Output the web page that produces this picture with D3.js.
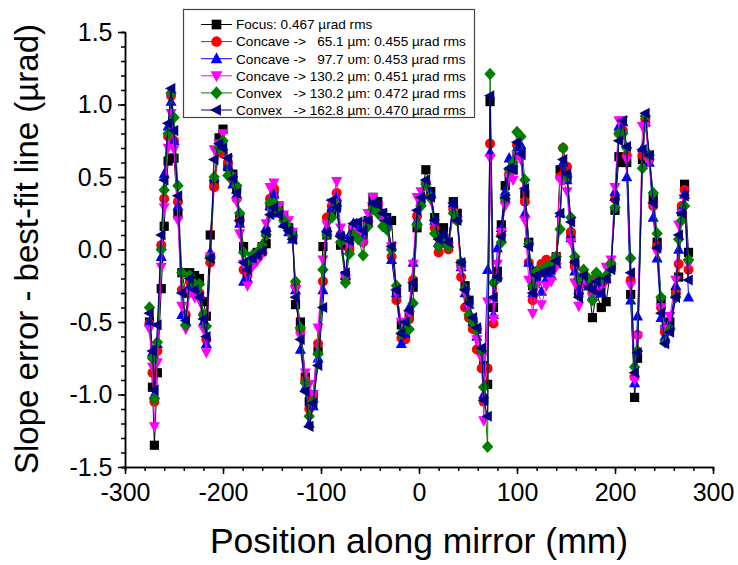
<!DOCTYPE html>
<html>
<head>
<meta charset="utf-8">
<script src="https://cdn.jsdelivr.net/npm/d3@7"></script>
<style>
body { margin: 0; background: #fff; }
text { font-family: "Liberation Sans", Arial, sans-serif; }
</style>
</head>
<body>
<script>
// positions along the mirror (mm), shared by every run
const positions = [
  -275,-272,-270,-267,-263,-260,-256,-253,-250,-246,
  -242,-238,-234,-229,-224,-220,-217,-213,-209,-204,
  -200,-195,-190,-186,-183,-179,-175,-170,-165,-160,
  -156,-152,-148,-143,-138,-133,-129,-126,-121,-116,
  -112,-108,-103,-98,-94,-89,-84,-80,-75,-71,
  -67,-62,-57,-52,-47,-42,-37,-33,-28,-23,
  -18,-14,-10,-6,-2,2,7,12,16,20,
  25,30,35,39,43,47,51,55,59,64,
  66,70,72.5,76,80,84,88,92,96,100,
  104,108,112,116,120,125,130,135,140,144,
  147,151,155,159,163,168,173,177,181,186,
  191,196,200,204,208,212,216,220,223,228,
  231,235,239,243,247,251,256,262,265,268,
  271,275
]

// slope error - best-fit line (urad)
const focus = [
  -0.50,-0.95,-1.35,-0.85,-0.27,0.16,0.61,0.63,0.63,0.24,
  -0.16,-0.30,-0.16,-0.18,-0.20,-0.36,-0.46,0.10,0.45,0.77,
  0.83,0.57,0.52,0.42,0.22,0.02,-0.12,-0.05,-0.02,0.02,
  0.04,0.30,0.39,0.30,0.22,0.15,0.10,-0.38,-0.50,-0.88,
  -1.05,-1.00,-0.70,0.02,0.10,0.25,0.30,0.03,-0.18,0.02,
  0.15,0.12,0.10,0.20,0.36,0.33,0.25,0.22,0.20,-0.30,
  -0.52,-0.60,-0.45,-0.26,0.15,0.35,0.55,0.40,0.22,0.10,
  0.15,0.05,0.33,0.25,-0.10,-0.25,-0.35,-0.50,-0.55,-0.70,
  -0.80,-0.93,1.02,-0.40,-0.15,0.17,0.44,0.50,0.55,0.65,
  0.65,0.38,0.05,-0.25,-0.15,-0.16,-0.14,-0.12,-0.05,0.55,
  0.55,0.50,0.10,-0.10,-0.30,-0.22,-0.25,-0.47,-0.30,-0.40,
  -0.36,-0.12,0.27,0.64,0.60,0.60,-0.31,-1.02,-0.75,0.62,
  0.88,0.65,0.35,0.05,-0.35,-0.55,-0.50,-0.30,-0.19,0.26,
  0.45,-0.02
]
const concave65 = [
  -0.51,-0.85,-1.05,-0.70,0.03,0.35,0.78,1.06,0.75,0.33,
  -0.28,-0.45,-0.22,-0.28,-0.30,-0.45,-0.62,-0.09,0.43,0.68,
  0.66,0.60,0.48,0.35,0.20,-0.14,-0.18,-0.10,-0.06,-0.02,
  0.10,0.35,0.42,0.26,0.22,0.14,0.08,-0.25,-0.55,-0.90,
  -1.10,-1.02,-0.65,-0.22,0.22,0.30,0.39,0.10,-0.20,0.00,
  0.14,0.10,0.05,0.18,0.30,0.30,0.22,0.15,-0.05,-0.35,
  -0.61,-0.62,-0.48,-0.21,0.23,0.36,0.46,0.36,0.15,-0.02,
  0.05,0.00,0.28,0.20,-0.19,-0.40,-0.47,-0.55,-0.69,-0.82,
  -1.05,-0.82,0.73,-0.51,-0.20,0.10,0.33,0.52,0.55,0.72,
  0.68,0.33,-0.09,-0.35,-0.20,-0.10,-0.07,-0.12,-0.05,0.50,
  0.70,0.57,0.12,-0.12,-0.25,-0.18,-0.22,-0.30,-0.17,-0.25,
  -0.21,-0.10,0.35,0.80,0.82,0.65,-0.21,-0.88,-0.59,0.65,
  0.90,0.62,0.30,0.02,-0.40,-0.57,-0.55,-0.30,-0.10,0.30,
  0.41,-0.14
]
const concave98 = [
  -0.50,-0.71,-1.00,-0.65,-0.05,0.52,0.85,1.02,0.75,0.30,
  -0.45,-0.50,-0.25,-0.30,-0.31,-0.50,-0.65,-0.02,0.50,0.72,
  0.71,0.58,0.45,0.38,0.18,-0.22,-0.20,-0.08,-0.04,0.00,
  0.15,0.30,0.38,0.25,0.18,0.12,0.07,-0.28,-0.69,-0.95,
  -1.20,-1.08,-0.75,-0.28,0.15,0.29,0.36,0.12,-0.18,0.10,
  0.18,0.15,0.08,0.22,0.33,0.28,0.24,0.18,-0.07,-0.30,
  -0.65,-0.58,-0.40,-0.09,0.20,0.33,0.45,0.38,0.20,0.05,
  0.10,0.04,0.32,0.22,-0.12,-0.30,-0.38,-0.50,-0.60,-0.70,
  -1.00,-0.14,0.67,-0.45,0.01,0.15,0.40,0.63,0.60,0.70,
  0.72,0.25,-0.09,-0.30,-0.22,-0.29,-0.20,-0.18,-0.10,0.25,
  0.60,0.48,0.08,-0.15,-0.28,-0.20,-0.25,-0.32,-0.22,-0.30,
  -0.20,-0.10,0.40,0.85,0.88,0.50,-0.35,-0.92,-0.46,0.70,
  0.88,0.60,0.22,-0.06,-0.47,-0.60,-0.52,-0.25,0.00,0.28,
  0.38,-0.33
]
const concave130 = [
  -0.55,-0.81,-1.22,-0.78,-0.12,0.29,0.70,0.94,0.69,0.20,
  -0.39,-0.55,-0.30,-0.33,-0.35,-0.55,-0.71,-0.05,0.69,0.73,
  0.80,0.62,0.50,0.33,0.11,-0.10,-0.25,-0.12,-0.08,-0.03,
  0.18,0.43,0.46,0.30,0.24,0.20,0.12,-0.28,-0.60,-0.85,
  -0.93,-1.00,-0.54,-0.07,0.17,0.32,0.47,0.15,-0.20,0.02,
  0.14,0.10,0.04,0.25,0.36,0.30,0.20,0.20,0.02,-0.30,
  -0.50,-0.55,-0.45,-0.10,0.36,0.40,0.44,0.34,0.18,0.06,
  0.08,0.02,0.25,0.20,-0.14,-0.30,-0.40,-0.50,-0.62,-0.75,
  -1.18,-0.36,0.63,-0.48,-0.10,0.12,0.30,0.50,0.48,0.65,
  0.62,0.20,-0.21,-0.44,-0.25,-0.38,-0.25,-0.22,-0.12,0.48,
  0.48,0.40,0.05,-0.23,-0.39,-0.20,-0.25,-0.33,-0.25,-0.28,
  -0.12,-0.07,0.43,0.89,0.89,0.62,-0.25,-0.90,-0.60,0.85,
  0.85,0.60,0.30,-0.02,-0.40,-0.55,-0.46,-0.21,0.17,0.25,
  0.35,-0.10
]
const convex130 = [
  -0.40,-0.75,-1.03,-0.64,0.00,0.41,0.80,1.08,0.91,0.44,
  -0.16,-0.52,-0.18,-0.24,-0.24,-0.45,-0.53,-0.06,0.50,0.70,
  0.75,0.51,0.50,0.44,0.25,-0.02,-0.10,-0.04,-0.02,0.03,
  0.10,0.32,0.32,0.26,0.20,0.15,0.10,-0.22,-0.54,-0.92,
  -1.15,-1.05,-0.72,-0.14,0.10,0.22,0.30,0.05,-0.23,-0.03,
  0.10,0.07,-0.04,0.16,0.28,0.25,0.16,0.14,0.00,-0.25,
  -0.58,-0.55,-0.55,-0.37,0.17,0.30,0.45,0.36,0.11,0.02,
  0.07,0.02,0.25,0.20,-0.09,-0.27,-0.45,-0.50,-0.55,-0.70,
  -0.95,-1.36,1.21,-0.23,-0.20,0.05,0.35,0.55,0.60,0.81,
  0.78,0.48,0.04,-0.25,-0.15,-0.14,-0.12,-0.10,-0.05,0.14,
  0.70,0.50,0.22,-0.05,-0.20,-0.14,-0.20,-0.35,-0.16,-0.20,
  -0.18,-0.10,0.29,0.80,0.80,0.70,-0.06,-0.81,-0.70,0.56,
  0.92,0.65,0.39,0.11,-0.33,-0.64,-0.55,-0.33,0.07,0.20,
  0.30,-0.07
]
const convex163 = [
  -0.44,-0.70,-0.97,-0.52,0.10,0.48,0.87,1.11,0.82,0.37,
  -0.30,-0.49,-0.20,-0.28,-0.33,-0.48,-0.60,-0.06,0.62,0.73,
  0.70,0.63,0.49,0.39,0.20,-0.09,-0.14,-0.06,-0.04,-0.01,
  0.12,0.24,0.29,0.24,0.16,0.13,0.07,-0.33,-0.62,-0.98,
  -1.22,-1.06,-0.80,-0.40,0.12,0.34,0.29,0.09,-0.16,0.06,
  0.18,0.19,0.13,0.20,0.32,0.31,0.25,0.20,0.02,-0.28,
  -0.58,-0.50,-0.42,-0.23,0.27,0.36,0.48,0.36,0.20,0.07,
  0.10,0.05,0.32,0.20,-0.09,-0.28,-0.37,-0.47,-0.54,-0.68,
  -1.04,-1.15,1.06,-0.33,-0.19,0.09,0.36,0.56,0.55,0.74,
  0.66,0.42,0.02,-0.30,-0.18,-0.16,-0.15,-0.14,-0.08,0.25,
  0.62,0.52,0.19,-0.09,-0.33,-0.18,-0.26,-0.28,-0.22,-0.30,
  -0.20,-0.14,0.34,0.75,0.89,0.71,-0.16,-0.85,-0.71,0.69,
  0.94,0.65,0.32,0.01,-0.44,-0.65,-0.57,-0.33,0.10,0.25,
  0.37,-0.21
]

const legendLabels = [
  'Focus: 0.467 \u00b5rad rms',
  'Concave ->   65.1 \u00b5m: 0.455 \u00b5rad rms',
  'Concave ->   97.7 \u03c5m: 0.453 \u00b5rad rms',
  'Concave -> 130.2 \u00b5m: 0.451 \u00b5rad rms',
  'Convex   -> 130.2 \u00b5m: 0.472 \u00b5rad rms',
  'Convex   -> 162.8 \u00b5m: 0.470 \u00b5rad rms'
]
const xTicks = [-300, -200, -100, 0, 100, 200, 300]
const xTickLabels = ['-300', '-200', '-100', '0', '100', '200', '300']
const yTicks = [-1.5, -1.0, -0.5, 0, 0.5, 1.0, 1.5]
const yTickLabels = ['-1.5', '-1.0', '-0.5', '0.0', '0.5', '1.0', '1.5']

const m = {
    width: 738,
    height: 565,
    left: 125,
    right: 713,
    top: 32,
    bottom: 467
}

// marker shapes, centred on 0,0
const shapes = {
    square: s => `M${-s},${-s}H${s}V${s}H${-s}Z`,
    circle: s => `M${-s},0A${s},${s} 0 1,0 ${s},0A${s},${s} 0 1,0 ${-s},0Z`,
    up: s => `M0,${-s * 1.15}L${s * 1.05},${s * 0.8}L${-s * 1.05},${s * 0.8}Z`,
    down: s => `M0,${s * 1.15}L${s * 1.05},${-s * 0.8}L${-s * 1.05},${-s * 0.8}Z`,
    diamond: s => `M0,${-s * 1.2}L${s * 1.1},0L0,${s * 1.2}L${-s * 1.1},0Z`,
    left: s => `M${-s * 1.15},0L${s * 0.8},${-s * 1.05}L${s * 0.8},${s * 1.05}Z`
}

const series = [
    { values: focus, color: '#000000', shape: 'square', size: 4.6 },
    { values: concave65, color: '#ff0000', shape: 'circle', size: 5.0 },
    { values: concave98, color: '#0000ff', shape: 'up', size: 5.3 },
    { values: concave130, color: '#ff00ff', shape: 'down', size: 5.3 },
    { values: convex130, color: '#008000', shape: 'diamond', size: 5.2 },
    { values: convex163, color: '#000080', shape: 'left', size: 5.3 }
]

const svg = d3.select('body').append('svg')
    .attr('width', m.width)
    .attr('height', m.height)

const x = d3.scaleLinear().domain([-300, 300]).range([m.left, m.right])
const y = d3.scaleLinear().domain([-1.5, 1.5]).range([m.bottom, m.top])

// minor ticks first, then the major axes on top
svg.append('g')
    .attr('transform', `translate(0,${m.bottom})`)
    .call(d3.axisBottom(x).tickValues(d3.range(-300, 301, 20)).tickSize(4).tickFormat(''))
svg.append('g')
    .attr('transform', `translate(${m.left},0)`)
    .call(d3.axisLeft(y).tickValues(d3.range(-15, 16, 1).map(d => d / 10)).tickSize(4).tickFormat(''))

const xAxis = svg.append('g')
    .attr('transform', `translate(0,${m.bottom})`)
    .call(d3.axisBottom(x).tickValues(xTicks).tickSize(7).tickSizeOuter(0)
        .tickFormat((d, i) => xTickLabels[i]))
const yAxis = svg.append('g')
    .attr('transform', `translate(${m.left},0)`)
    .call(d3.axisLeft(y).tickValues(yTicks).tickSize(7).tickSizeOuter(0)
        .tickFormat((d, i) => yTickLabels[i]))

svg.selectAll('.domain, .tick line').attr('stroke', '#000').attr('stroke-width', 1.5)
xAxis.selectAll('text').attr('font-size', 25).attr('fill', '#000').attr('dy', '0.95em')
yAxis.selectAll('text').attr('font-size', 25).attr('fill', '#000').attr('dx', '-0.1em')

svg.append('text')
    .attr('x', 419)
    .attr('y', 553)
    .attr('text-anchor', 'middle')
    .attr('font-size', 35.5)
    .text('Position along mirror (mm)')

svg.append('text')
    .attr('transform', 'translate(38,249) rotate(-90)')
    .attr('text-anchor', 'middle')
    .attr('font-size', 33)
    .text('Slope error - best-fit line (\u00b5rad)')

const line = d3.line()
    .x((d, i) => x(positions[i]))
    .y(d => y(d))

const plot = svg.append('g')

series.forEach(function(s) {
    const g = plot.append('g')
    g.append('path')
        .datum(s.values)
        .attr('fill', 'none')
        .attr('stroke', s.color)
        .attr('stroke-width', 1)
        .attr('d', line)
    g.selectAll('.marker')
        .data(s.values)
        .enter()
        .append('path')
            .attr('class', 'marker')
            .attr('transform', (d, i) => `translate(${x(positions[i])},${y(d)})`)
            .attr('d', shapes[s.shape](s.size))
            .attr('fill', s.color)
})

// legend
const legend = svg.append('g')
legend.append('rect')
    .attr('x', 183.5)
    .attr('y', 9.5)
    .attr('width', 291)
    .attr('height', 108)
    .attr('fill', '#fff')
    .attr('stroke', '#444')
    .attr('stroke-width', 1.2)

series.forEach(function(s, i) {
    const cy = 24.5 + i * 17.1
    const row = legend.append('g')
    row.append('line')
        .attr('x1', 201).attr('x2', 232)
        .attr('y1', cy).attr('y2', cy)
        .attr('stroke', s.color)
        .attr('stroke-width', 1)
    row.append('path')
        .attr('transform', `translate(216.5,${cy})`)
        .attr('d', shapes[s.shape](s.size * 1.05))
        .attr('fill', s.color)
    row.append('text')
        .attr('x', 236)
        .attr('y', cy)
        .attr('dy', '0.36em')
        .attr('font-size', 13.6)
        .style('white-space', 'pre')
        .text(legendLabels[i])
})
</script>
</body>
</html>
